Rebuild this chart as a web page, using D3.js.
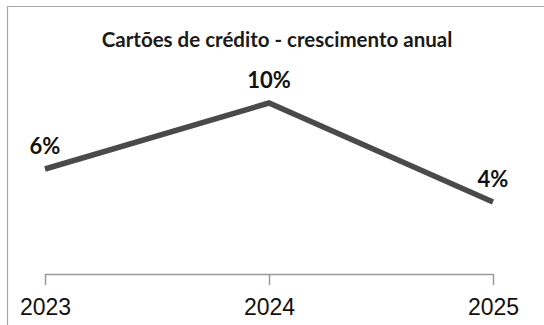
<!DOCTYPE html>
<html lang="pt">
<head>
    <meta charset="UTF-8">
    <script src="https://d3js.org/d3.v7.min.js"></script>
    <style>
        body { margin: 0; background: #fff; }
        svg { display: block; }
    </style>
</head>
<body>
    <div id="chart"></div>
    <script>
        const years = ["2023", "2024", "2025"];
        const growth = [6, 10, 4];
        const title = "Cartões de crédito - crescimento anual";

        const w = 544, h = 325;
        const data = years.map((y, i) => ({ year: y, value: growth[i] }));

        const svg = d3.select("#chart")
            .append("svg")
            .attr("width", w)
            .attr("height", h);

        // frame
        svg.append("path")
            .attr("d", `M7.5,${h} V6.5 H${w}`)
            .attr("fill", "none")
            .attr("stroke", "#a8a8a8")
            .attr("stroke-width", 1.2);

        const xScale = d3.scalePoint()
            .domain(years)
            .range([45, 493]);

        const yScale = d3.scaleLinear()
            .domain([0, 12])
            .range([268, 70]);

        const axisY = 274;

        const xAxis = d3.axisBottom(xScale)
            .tickSizeInner(11)
            .tickSizeOuter(0)
            .tickPadding(6);

        const gx = svg.append("g")
            .attr("transform", `translate(0,${axisY})`)
            .call(xAxis);
        gx.select(".domain").attr("stroke", "#999").attr("stroke-width", 1.5);
        gx.selectAll(".tick line").attr("stroke", "#999").attr("stroke-width", 1.5).attr("y2", 11);
        gx.selectAll(".tick text")
            .attr("font-family", "Liberation Sans, Arial, sans-serif")
            .attr("font-size", "23px")
            .attr("fill", "#111")
            .attr("y", 25)
            .attr("dy", "0.71em")
            .attr("text-anchor", "middle");

        const line = d3.line()
            .x(d => xScale(d.year))
            .y(d => yScale(d.value));

        svg.append("path")
            .datum(data)
            .attr("fill", "none")
            .attr("stroke", "#4a4a4a")
            .attr("stroke-width", 5.5)
            .attr("d", line);

        svg.selectAll("text.data-label")
            .data(data)
            .enter()
            .append("text")
            .attr("class", "data-label")
            .attr("x", d => xScale(d.year))
            .attr("y", d => yScale(d.value) - 15)
            .attr("text-anchor", "middle")
            .attr("font-family", "Lato, sans-serif")
            .attr("font-weight", "bold")
            .attr("font-size", "22px")
            .attr("fill", "#111")
            .text(d => `${d.value}%`);

        svg.append("text")
            .attr("x", 277)
            .attr("y", 47)
            .attr("text-anchor", "middle")
            .attr("font-family", "Lato, sans-serif")
            .attr("font-weight", "bold")
            .attr("font-size", "20.5px")
            .attr("fill", "#1a1a1a")
            .text(title);
    </script>
</body>
</html>
